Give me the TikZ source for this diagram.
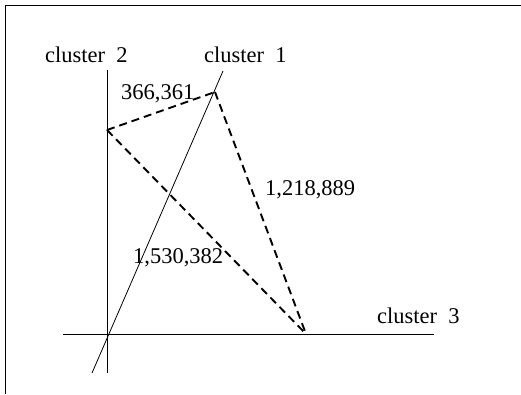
\documentclass[tikz,border=0pt]{standalone}
\usepackage{fontspec}
\setmainfont{Liberation Serif}
\begin{document}
\begin{tikzpicture}[x=1pt,y=-1pt,
  axis/.style={line width=0.8pt},
  dist/.style={line width=1.9pt,dash pattern=on 8pt off 5pt},
  lbl/.style={anchor=base west,inner sep=0pt,font=\fontsize{22.5}{27}\selectfont}]
\useasboundingbox (0,0) rectangle (521,394);
\draw[line width=0.8pt] (5,394) -- (5,5) -- (521,5);
% axes
\coordinate (c2top) at (107,70);
\coordinate (c2bot) at (107,373);
\coordinate (c3left) at (63,334);
\coordinate (c3right) at (434,334);
\coordinate (c1top) at (223,71);
\coordinate (c1bot) at (92,373);
\draw[axis] (c2top) -- (c2bot);
\draw[axis] (c3left) -- (c3right);
\draw[axis] (c1bot) -- (c1top);
% points
\coordinate (p1) at (215,92);
\coordinate (p2) at (107,130);
\coordinate (p3) at (306,334);
\draw[dist] (p2) -- (p1);
\draw[dist] (p1) -- (p3);
\draw[dist] (p2) -- (p3);
% labels
\node[lbl] (l2) at (45,62) {cluster\ \ 2};
\node[lbl] (l1) at (204,62) {cluster\ \ 1};
\node[lbl] (l3) at (377,323) {cluster\ \ 3};
\node[lbl] (d12) at (121,99) {366,361};
\node[lbl] (d13) at (265,195) {1,218,889};
\node[lbl] (d23) at (133,263) {1,530,382};
\end{tikzpicture}
\end{document}
